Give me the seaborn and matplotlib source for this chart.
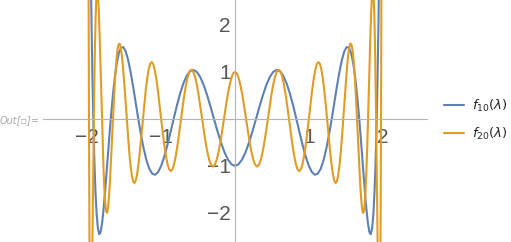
import numpy as np
import pandas as pd
import matplotlib
matplotlib.use("Agg")
import matplotlib.pyplot as plt
from matplotlib.ticker import MultipleLocator
import seaborn as sns

# valeurs : lambda et f_10(lambda)
lam10 = [-1.9639, -1.9543, -1.9436, -1.9319, -1.9190, -1.9050, -1.8900, -1.8739,
         -1.8567, -1.8385, -1.8193, -1.7990, -1.7777, -1.7554, -1.7321, -1.7078, -1.6825, -1.6563,
         -1.6292, -1.6011, -1.5721, -1.5422, -1.5115, -1.4799, -1.4475, -1.4142, -1.3801, -1.3453,
         -1.3097, -1.2734, -1.2363, -1.1986, -1.1601, -1.1210, -1.0813, -1.0409, -1.0, -0.9585,
         -0.9164, -0.8739, -0.8308, -0.7873, -0.7433, -0.6989, -0.6541, -0.6090, -0.5635, -0.5176,
         -0.4715, -0.4251, -0.3785, -0.3317, -0.2846, -0.2374, -0.1901, -0.1427, -0.0952, -0.0476,
         0.0,
         0.0476, 0.0952, 0.1427, 0.1901, 0.2374, 0.2846, 0.3317, 0.3785, 0.4251, 0.4715,
         0.5176, 0.5635, 0.6090, 0.6541, 0.6989, 0.7433, 0.7873, 0.8308, 0.8739, 0.9164,
         0.9585, 1.0, 1.0409, 1.0813, 1.1210, 1.1601, 1.1986, 1.2363, 1.2734, 1.3097,
         1.3453, 1.3801, 1.4142, 1.4475, 1.4799, 1.5115, 1.5422, 1.5721, 1.6011, 1.6292,
         1.6563, 1.6825, 1.7078, 1.7321, 1.7554, 1.7777, 1.7990, 1.8193, 1.8385, 1.8567,
         1.8739, 1.8900, 1.9050, 1.9190, 1.9319, 1.9436, 1.9543, 1.9639]
f10 = [4.576, 3.327, 2.121, 1.0, 0.0, -0.850, -1.529, -2.023,
       -2.330, -2.454, -2.407, -2.211, -1.890, -1.475, -1.0, -0.497, 0.0, 0.462,
       0.862, 1.180, 1.401, 1.517, 1.527, 1.436, 1.255, 1.0, 0.691, 0.350,
       0.0, -0.336, -0.636, -0.883, -1.063, -1.166, -1.189, -1.131, -1.0, -0.806,
       -0.563, -0.288, 0.0, 0.282, 0.539, 0.755, 0.916, 1.014, 1.042, 1.0,
       0.891, 0.724, 0.509, 0.262, 0.0, -0.261, -0.502, -0.709, -0.867, -0.966,
       -1.0,
       -0.966, -0.867, -0.709, -0.502, -0.261, 0.0, 0.262, 0.509, 0.724, 0.891,
       1.0, 1.042, 1.014, 0.916, 0.755, 0.539, 0.282, 0.0, -0.288, -0.563,
       -0.806, -1.0, -1.131, -1.189, -1.166, -1.063, -0.883, -0.636, -0.336, 0.0,
       0.350, 0.691, 1.0, 1.255, 1.436, 1.527, 1.517, 1.401, 1.180, 0.862,
       0.462, 0.0, -0.497, -1.0, -1.475, -1.890, -2.211, -2.407, -2.454, -2.330,
       -2.023, -1.529, -0.850, 0.0, 1.0, 2.121, 3.327, 4.576]

# lambda et f_20(lambda)
lam20 = [-1.9845, -1.9812, -1.9777, -1.9738, -1.9696, -1.9651,
         -1.9603, -1.9553, -1.9499, -1.9442, -1.9382, -1.9319, -1.9252, -1.9183, -1.9111, -1.9036,
         -1.8959, -1.8878, -1.8794, -1.8707, -1.8617, -1.8525, -1.8430, -1.8331, -1.8230, -1.8126,
         -1.8019, -1.7910, -1.7797, -1.7682, -1.7564, -1.7444, -1.7321, -1.7194, -1.7066, -1.6934,
         -1.6801, -1.6664, -1.6525, -1.6383, -1.6239, -1.6092, -1.5943, -1.5791, -1.5637, -1.5480,
         -1.5321, -1.5159, -1.4996, -1.4829, -1.4661, -1.4490, -1.4317, -1.4142, -1.3965, -1.3785,
         -1.3603, -1.3420, -1.3234, -1.3046, -1.2856, -1.2664, -1.2470, -1.2274, -1.2076, -1.1876,
         -1.1675, -1.1472, -1.1266, -1.1060, -1.0851, -1.0641, -1.0429, -1.0215, -1.0, -0.9783,
         -0.9565, -0.9345, -0.9124, -0.8902, -0.8678, -0.8452, -0.8226, -0.7998, -0.7769, -0.7538,
         -0.7307, -0.7074, -0.6840, -0.6606, -0.6370, -0.6133, -0.5895, -0.5656, -0.5417, -0.5176,
         -0.4935, -0.4693, -0.4450, -0.4207, -0.3963, -0.3718, -0.3473, -0.3227, -0.2981, -0.2734,
         -0.2487, -0.2239, -0.1991, -0.1743, -0.1495, -0.1246, -0.0997, -0.0748, -0.0499, -0.0249,
         0.0,
         0.0249, 0.0499, 0.0748, 0.0997, 0.1246, 0.1495, 0.1743, 0.1991, 0.2239, 0.2487,
         0.2734, 0.2981, 0.3227, 0.3473, 0.3718, 0.3963, 0.4207, 0.4450, 0.4693, 0.4935,
         0.5176, 0.5417, 0.5656, 0.5895, 0.6133, 0.6370, 0.6606, 0.6840, 0.7074, 0.7307,
         0.7538, 0.7769, 0.7998, 0.8226, 0.8452, 0.8678, 0.8902, 0.9124, 0.9345, 0.9565,
         0.9783, 1.0, 1.0215, 1.0429, 1.0641, 1.0851, 1.1060, 1.1266, 1.1472, 1.1675,
         1.1876, 1.2076, 1.2274, 1.2470, 1.2664, 1.2856, 1.3046, 1.3234, 1.3420, 1.3603,
         1.3785, 1.3965, 1.4142, 1.4317, 1.4490, 1.4661, 1.4829, 1.4996, 1.5159, 1.5321,
         1.5480, 1.5637, 1.5791, 1.5943, 1.6092, 1.6239, 1.6383, 1.6525, 1.6664, 1.6801,
         1.6934, 1.7066, 1.7194, 1.7321, 1.7444, 1.7564, 1.7682, 1.7797, 1.7910, 1.8019,
         1.8126, 1.8230, 1.8331, 1.8430, 1.8525, 1.8617, 1.8707, 1.8794, 1.8878, 1.8959,
         1.9036, 1.9111, 1.9183, 1.9252, 1.9319, 1.9382, 1.9442, 1.9499, 1.9553, 1.9603,
         1.9651, 1.9696, 1.9738, 1.9777, 1.9812, 1.9845]
f20 = [4.021, 1.893, 0.0, -1.604, -2.879, -3.803,
       -4.371, -4.592, -4.494, -4.116, -3.510, -2.732, -1.846, -0.915, 0.0, 0.844,
       1.570, 2.141, 2.532, 2.731, 2.737, 2.563, 2.230, 1.768, 1.216, 0.612,
       0.0, -0.582, -1.096, -1.513, -1.811, -1.975, -2.000, -1.891, -1.661, -1.329,
       -0.922, -0.468, 0.0, 0.451, 0.857, 1.191, 1.434, 1.574, 1.604, 1.525,
       1.347, 1.084, 0.756, 0.386, 0.0, -0.376, -0.716, -1.0, -1.210, -1.333,
       -1.364, -1.303, -1.155, -0.933, -0.653, -0.334, 0.0, 0.328, 0.627, 0.879,
       1.067, 1.179, 1.210, 1.159, 1.031, 0.835, 0.586, 0.301, 0.0, -0.297,
       -0.569, -0.800, -0.973, -1.079, -1.110, -1.066, -0.950, -0.771, -0.543, -0.279,
       0.0, 0.277, 0.532, 0.749, 0.914, 1.015, 1.047, 1.007, 0.900, 0.732,
       0.516, 0.266, 0.0, -0.265, -0.513, -0.720, -0.884, -0.979, -1.015, -0.975,
       -0.876, -0.712, -0.504, -0.260, 0.0, 0.259, 0.503, 0.708, 0.868, 0.966,
       1.0,
       0.966, 0.868, 0.708, 0.503, 0.259, 0.0, -0.260, -0.504, -0.712, -0.876,
       -0.975, -1.015, -0.979, -0.884, -0.720, -0.513, -0.265, 0.0, 0.266, 0.516,
       0.732, 0.900, 1.007, 1.047, 1.015, 0.914, 0.749, 0.532, 0.277, 0.0,
       -0.279, -0.543, -0.771, -0.950, -1.066, -1.110, -1.079, -0.973, -0.800, -0.569,
       -0.297, 0.0, 0.301, 0.586, 0.835, 1.031, 1.159, 1.210, 1.179, 1.067,
       0.879, 0.627, 0.328, 0.0, -0.334, -0.653, -0.933, -1.155, -1.303, -1.364,
       -1.333, -1.210, -1.0, -0.716, -0.376, 0.0, 0.386, 0.756, 1.084, 1.347,
       1.525, 1.604, 1.574, 1.434, 1.191, 0.857, 0.451, 0.0, -0.468, -0.922,
       -1.329, -1.661, -1.891, -2.000, -1.975, -1.811, -1.513, -1.096, -0.582, 0.0,
       0.612, 1.216, 1.768, 2.230, 2.563, 2.737, 2.731, 2.532, 2.141, 1.570,
       0.844, 0.0, -0.915, -1.846, -2.732, -3.510, -4.116, -4.494, -4.592, -4.371,
       -3.803, -2.879, -1.604, 0.0, 1.893, 4.021]

labels = [r"$f_{10}(\lambda)$", r"$f_{20}(\lambda)$"]
colors = ["#5e81b5", "#e19c24"]

assert len(lam10) == len(f10) and len(lam20) == len(f20)

df = pd.concat([
    pd.DataFrame({"lam": lam10, "val": f10, "serie": labels[0]}),
    pd.DataFrame({"lam": lam20, "val": f20, "serie": labels[1]}),
])

sns.set_style("white")
plt.rcParams["font.family"] = ["Liberation Sans", "DejaVu Sans"]

fig = plt.figure(figsize=(5.11, 2.42), dpi=100)
ax = fig.add_axes([43 / 511, 0, 384 / 511, 1])

sns.lineplot(data=df, x="lam", y="val", hue="serie", palette=dict(zip(labels, colors)),
             linewidth=1.5, estimator=None, ax=ax)

ax.set_xlim(-2.6, 2.6)
ax.set_ylim(-2.62, 2.53)
ax.set_xlabel("")
ax.set_ylabel("")

# axes à la Mathematica, croisées à l'origine
for s in ["top", "right"]:
    ax.spines[s].set_visible(False)
for s in ["left", "bottom"]:
    ax.spines[s].set_position("zero")
    ax.spines[s].set_color("#b4b4b4")
    ax.spines[s].set_linewidth(0.8)

ax.set_xticks([-2, -1, 1, 2])
ax.set_yticks([-2, -1, 1, 2])
ax.xaxis.set_minor_locator(MultipleLocator(0.2))
ax.yaxis.set_minor_locator(MultipleLocator(0.2))
ax.tick_params(which="major", direction="in", length=4, width=0.8, color="#b4b4b4",
               labelsize=15, labelcolor="#555555", pad=3)
ax.tick_params(axis="x", which="major", pad=6.5)
ax.tick_params(which="minor", direction="in", length=2.2, width=0.6, color="#c4c4c4")

ax.legend(loc="center left", bbox_to_anchor=(444 / 511, 0.504), bbox_transform=fig.transFigure,
          frameon=False, fontsize=9.5, handlelength=1.5, handletextpad=0.6,
          labelspacing=0.9, borderpad=0, borderaxespad=0)

fig.text(0.0, 0.504, "Out[▫]=", color="#a8a8a8", style="italic", fontsize=7,
         ha="left", va="center", family="DejaVu Sans")

fig.savefig("out.png", dpi=100)
